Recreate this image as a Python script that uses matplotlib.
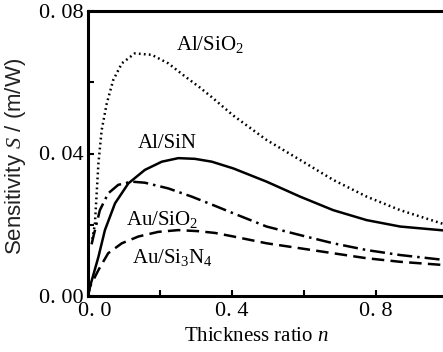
import matplotlib
matplotlib.use("Agg")
import matplotlib.pyplot as plt
import matplotlib.transforms as mtransforms

serif = "Liberation Serif"
plt.rcParams["mathtext.fontset"] = "custom"
plt.rcParams["mathtext.rm"] = serif
plt.rcParams["mathtext.it"] = serif + ":italic"
plt.rcParams["mathtext.bf"] = serif + ":bold"

# Data
al_sio2_x = [0.012, 0.019, 0.029, 0.038, 0.052, 0.070, 0.094, 0.13, 0.177, 0.223,
             0.27, 0.311, 0.344, 0.403, 0.496, 0.589, 0.681, 0.774, 0.867, 1.0]
al_sio2_y = [0.016, 0.0200, 0.0373, 0.0466, 0.054, 0.0606, 0.0653, 0.0681, 0.0677, 0.0653,
             0.0616, 0.0585, 0.0558, 0.0507, 0.0438, 0.0382, 0.0326, 0.0279, 0.0241, 0.0198]

al_sin_x = [0.0, 0.0055, 0.029, 0.047, 0.075, 0.112, 0.158, 0.205, 0.251, 0.297,
            0.344, 0.404, 0.496, 0.589, 0.681, 0.774, 0.867, 1.0]
al_sin_y = [0.0, 0.0026, 0.011, 0.0185, 0.026, 0.0316, 0.0354, 0.0377, 0.0387, 0.0385,
            0.0377, 0.0358, 0.0321, 0.0279, 0.0241, 0.0213, 0.0195, 0.0183]

au_sio2_x = [0.01, 0.015, 0.033, 0.056, 0.084, 0.121, 0.158, 0.223, 0.288, 0.353,
             0.404, 0.496, 0.589, 0.681, 0.774, 0.867, 1.0]
au_sio2_y = [0.0145, 0.0167, 0.0241, 0.0288, 0.0312, 0.0321, 0.0318, 0.0302, 0.0279, 0.0253,
             0.0232, 0.0195, 0.0171, 0.0148, 0.0129, 0.0115, 0.0100]

au_si3n4_x = [0.0, 0.0055, 0.029, 0.056, 0.094, 0.14, 0.195, 0.251, 0.306, 0.353,
              0.404, 0.496, 0.589, 0.681, 0.774, 0.867, 1.0]
au_si3n4_y = [0.0, 0.0026, 0.0073, 0.012, 0.0148, 0.0167, 0.018, 0.0185, 0.0182, 0.0177,
              0.0167, 0.0148, 0.0134, 0.012, 0.0106, 0.0096, 0.0086]

x_ticks = [0.0, 0.2, 0.4, 0.6, 0.8, 1.0]
x_ticklabels = ["0. 0", "", "0. 4", "", "0. 8", ""]
y_ticks = [0.0, 0.02, 0.04, 0.06, 0.08]
y_ticklabels = ["0. 00", "", "0. 04", "", "0. 08"]

fig = plt.figure(figsize=(4.43, 3.52), dpi=100)
ax = fig.add_axes([88/443, 56/352, 360/443, 285/352])

lw = 1.8
ax.plot(al_sio2_x, al_sio2_y, color="black", lw=lw, ls=(0, (0.7, 1.3)))
ax.plot(al_sin_x, al_sin_y, color="black", lw=lw, ls="-")
ax.plot(au_sio2_x, au_sio2_y, color="black", lw=lw, ls=(0, (6, 2, 1, 2)))
ax.plot(au_si3n4_x, au_si3n4_y, color="black", lw=lw, ls=(0, (5, 2.5)))

ax.set_xlim(0, 1.0)
ax.set_ylim(0, 0.08)
ax.set_xticks(x_ticks)
ax.set_xticklabels(x_ticklabels, fontfamily=serif, fontsize=16)
ax.set_yticks(y_ticks)
ax.set_yticklabels(y_ticklabels, fontfamily=serif, fontsize=16)
ax.tick_params(direction="in", length=4, width=1.5)
ax.tick_params(axis="y", pad=3)
ax.tick_params(axis="x", pad=4)
for s in ax.spines.values():
    s.set_linewidth(2.2)

# shift the "0. 0" label slightly to the right like the reference
lbl0 = ax.get_xticklabels()[0]
lbl0.set_transform(lbl0.get_transform() + mtransforms.ScaledTranslation(7/100, 0, fig.dpi_scale_trans))

lab_kw = dict(fontfamily=serif, fontsize=15, color="black", ha="center", va="center")
ax.text(0.34, 0.0705, r"Al/SiO$_2$", **lab_kw)
ax.text(0.22, 0.0428, "Al/SiN", **lab_kw)
ax.text(0.205, 0.0215, r"Au/SiO$_2$", **lab_kw)
ax.text(0.235, 0.0107, r"Au/Si$_3$N$_4$", **lab_kw)

ax.set_xlabel(r"Thickness ratio $\mathit{n}$", fontfamily=serif, fontsize=15)
ax.xaxis.set_label_coords(0.467, -0.108)
ax.set_ylabel(r"Sensitivity $S$ / (m/W)", fontfamily="Liberation Sans", fontsize=16, color="#222222")
ax.yaxis.set_label_coords(-0.167, 0.49)

fig.savefig("out.png", dpi=100)
